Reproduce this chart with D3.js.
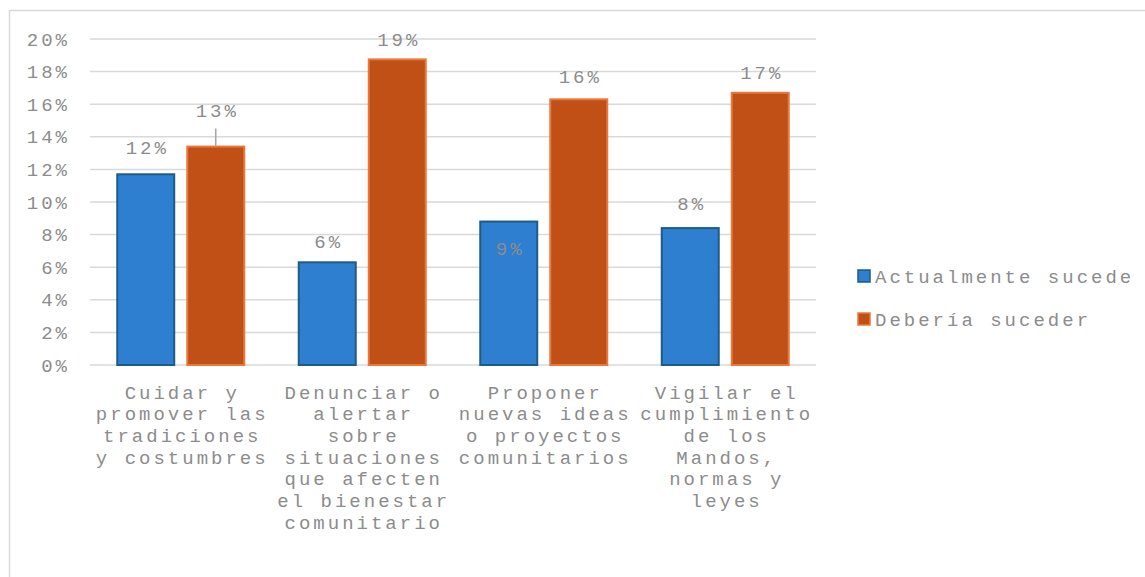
<!DOCTYPE html>
<html>
<head>
<meta charset="utf-8">
<script src="https://cdn.jsdelivr.net/npm/d3@7"></script>
<style>
  html, body { margin: 0; padding: 0; background: #fff; }
  svg { display: block; }
  text { font-family: "Liberation Mono", "Courier New", monospace; }
</style>
</head>
<body>
<svg id="chart" width="1145" height="577"></svg>
<script>
// ---- data ----
const categories = [
  "Cuidar y promover las tradiciones y costumbres",
  "Denunciar o alertar sobre situaciones que afecten el bienestar comunitario",
  "Proponer nuevas ideas o proyectos comunitarios",
  "Vigilar el cumplimiento de los Mandos, normas y leyes"
];
const categoryLines = [
  ["Cuidar y", "promover las", "tradiciones", "y costumbres"],
  ["Denunciar o", "alertar", "sobre", "situaciones", "que afecten", "el bienestar", "comunitario"],
  ["Proponer", "nuevas ideas", "o proyectos", "comunitarios"],
  ["Vigilar el", "cumplimiento", "de los", "Mandos,", "normas y", "leyes"]
];
const seriesNames = ["Actualmente sucede", "Debería suceder"];
const actualmente = [0.117, 0.063, 0.088, 0.084];
const deberia = [0.134, 0.1875, 0.163, 0.167];
const yTicks = [0, 0.02, 0.04, 0.06, 0.08, 0.10, 0.12, 0.14, 0.16, 0.18, 0.20];

// ---- style / layout ----
const colors = { fill: ["#2e7fcf", "#c05016"], stroke: ["#1e5c86", "#e8783c"] };
const textColor = "#8c8c8c";
const gridColor = "#d9d9d9";
const fontSize = 19;
const letterSp = 3;
const plot = { left: 90, right: 816, top: 39, bottom: 365 };
// label vertical offset above bar top (px); negative = inside bar
const labelGap = [[27, 21, -27, 25], [36, 20, 23, 20]];

const svg = d3.select("#chart");

function styleText(sel) {
  return sel.attr("fill", textColor)
    .style("font-size", fontSize + "px")
    .style("letter-spacing", letterSp + "px")
    .style("font-family", '"Liberation Mono", monospace');
}

// frame
svg.append("rect")
  .attr("x", 9.5).attr("y", 10.5)
  .attr("width", 1145).attr("height", 600)
  .attr("fill", "none").attr("stroke", gridColor).attr("stroke-width", 1.5);

const y = d3.scaleLinear().domain([0, 0.20]).range([plot.bottom, plot.top]);
const x0 = d3.scaleBand().domain(d3.range(categories.length)).range([plot.left, plot.right]).padding(0);
const x1 = d3.scaleBand().domain([0, 1]).range([27.25, x0.bandwidth() - 27.25]).paddingInner(0.186);

// grid
svg.append("g").selectAll("line").data(yTicks).join("line")
  .attr("x1", plot.left).attr("x2", plot.right)
  .attr("y1", d => y(d)).attr("y2", d => y(d))
  .attr("stroke", gridColor).attr("stroke-width", 1.5);

// y axis
const yAxis = svg.append("g")
  .attr("transform", `translate(${plot.left - 20},0)`)
  .call(d3.axisLeft(y).tickValues(yTicks).tickFormat(d3.format(".0%")).tickSize(0).tickPadding(0));
yAxis.select(".domain").remove();
styleText(yAxis.selectAll("text"));

// bars
const seriesData = [actualmente, deberia];
seriesData.forEach((vals, s) => {
  svg.append("g").selectAll("rect").data(vals).join("rect")
    .attr("x", (d, i) => x0(i) + x1(s))
    .attr("y", d => y(d))
    .attr("width", x1.bandwidth())
    .attr("height", d => y(0) - y(d))
    .attr("fill", colors.fill[s])
    .attr("stroke", colors.stroke[s])
    .attr("stroke-width", 2);
});

// data labels
seriesData.forEach((vals, s) => {
  styleText(svg.append("g").selectAll("text").data(vals).join("text")
    .attr("x", (d, i) => x0(i) + x1(s) + x1.bandwidth() / 2 + letterSp / 2)
    .attr("y", (d, i) => y(d) - labelGap[s][i])
    .attr("dy", "0.35em")
    .attr("text-anchor", "middle")
    .text(d => d3.format(".0%")(d)));
});
// leader line for 13% label
svg.append("line")
  .attr("x1", x0(0) + x1(1) + x1.bandwidth() / 2)
  .attr("x2", x0(0) + x1(1) + x1.bandwidth() / 2)
  .attr("y1", y(deberia[0]) - 18).attr("y2", y(deberia[0]))
  .attr("stroke", "#a6a6a6").attr("stroke-width", 1.5);

// x axis labels
const xAxis = svg.append("g")
  .attr("transform", `translate(0,${plot.bottom})`)
  .call(d3.axisBottom(x0).tickSize(0).tickFormat(() => ""));
xAxis.select(".domain").remove();
xAxis.selectAll(".tick").each(function(d) {
  const t = styleText(d3.select(this).select("text").attr("y", 0).attr("dy", null));
  t.selectAll("tspan").data(categoryLines[d]).join("tspan")
    .attr("x", letterSp / 2)
    .attr("y", (l, k) => 27 + k * 21.7)
    .attr("dy", "0.35em")
    .text(l => l);
});

// legend
const legend = svg.append("g");
seriesNames.forEach((name, s) => {
  const cy = 276 + s * 43;
  legend.append("rect")
    .attr("x", 858).attr("y", cy - 6).attr("width", 12).attr("height", 12)
    .attr("fill", colors.fill[s]).attr("stroke", colors.stroke[s]).attr("stroke-width", 1.5);
  styleText(legend.append("text")
    .attr("x", 875).attr("y", cy).attr("dy", "0.35em")
    .text(name));
});
</script>
</body>
</html>
